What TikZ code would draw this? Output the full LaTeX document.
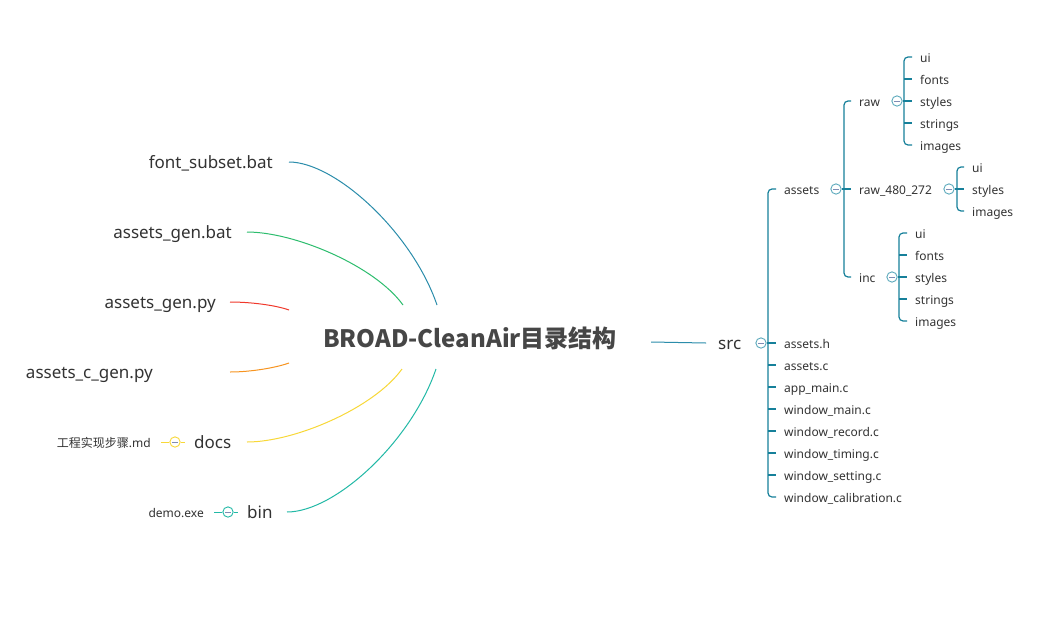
\documentclass[tikz,border=0pt]{standalone}
\usepackage{fontspec}
\setmainfont{Noto Sans}
\newfontfamily\cjk{Noto Sans CJK SC}
\definecolor{txt}{HTML}{333333}
\definecolor{ttl}{HTML}{464646}
\definecolor{cA}{HTML}{2B8DAB}
\definecolor{cB}{HTML}{2DBD6E}
\definecolor{cC}{HTML}{F0382B}
\definecolor{cD}{HTML}{F79420}
\definecolor{cE}{HTML}{F8D838}
\definecolor{cF}{HTML}{22B9A6}
\definecolor{treec}{HTML}{16809A}
\definecolor{togc}{HTML}{5BA9BC}
\definecolor{minusc}{HTML}{7F8CB4}
\begin{document}
\begin{tikzpicture}[x=1pt,y=-1pt,
  sm/.style={font=\fontsize{12}{14}\selectfont, text=txt, inner sep=0pt, text height=12.6pt, text depth=2.6pt},
  bg/.style={font=\fontsize{17}{20}\selectfont, text=txt, inner sep=0pt, text height=16.4pt, text depth=3.6pt},
  ttlstyle/.style={font=\cjk\bfseries\fontsize{24}{28}\selectfont, text=ttl, inner sep=0pt, text height=25pt, text depth=5.8pt},
  tog/.style={circle, draw=#1, fill=white, line width=0.9pt, minimum size=10.3pt, inner sep=0pt,
    path picture={\draw[minusc, line width=0.9pt] ([xshift=-2.8pt]path picture bounding box.center) -- ([xshift=2.8pt]path picture bounding box.center);}},
  tog/.default=togc,
  tree/.style={draw=treec, line width=1.2pt},
  curve/.style={draw=#1, line width=1pt}
]
\useasboundingbox[fill=white] (0,0) rectangle (1054,635);

% ---- root ----
\node[ttlstyle] (root) at (470,338) {BROAD-CleanAir目录结构};

% ---- left side ----
\node[bg, anchor=east] (fs) at (273,162) {font\_subset.bat};
\node[bg, anchor=east] (ag) at (232,232) {assets\_gen.bat};
\node[bg, anchor=east] (agp) at (216,302) {assets\_gen.py};
\node[bg, anchor=east] (acg) at (153,372) {assets\_c\_gen.py};
\node[bg, anchor=west] (docs) at (194,442) {docs};
\node[bg, anchor=west] (bin) at (247,512) {bin};
\node[sm, anchor=east] (md) at (151,442) {{\cjk 工程实现步骤}.md};
\node[sm, anchor=east] (demo) at (204,512) {demo.exe};

\coordinate (sA) at (289,162); \coordinate (eA) at (437,305);
\coordinate (sB) at (247,232); \coordinate (eB) at (403,305);
\coordinate (sC) at (230,302); \coordinate (eC) at (289,310);
\coordinate (sD) at (230,372); \coordinate (eD) at (289,363);
\coordinate (sE) at (247,442); \coordinate (eE) at (402,369);
\coordinate (sF) at (287,512); \coordinate (eF) at (436,369);

\draw[curve=cA] (sA) .. controls (335,162) and (412,232) .. (eA);
\draw[curve=cB] (sB) .. controls (295,232) and (375,266) .. (eB);
\draw[curve=cC] (sC) .. controls (250,302) and (275,305) .. (eC);
\draw[curve=cD] (sD) .. controls (250,372) and (275,368) .. (eD);
\draw[curve=cE] (sE) .. controls (295,442) and (374,408) .. (eE);
\draw[curve=cF] (sF) .. controls (335,512) and (411,442) .. (eF);

\node[tog=cE] (docst) at (175,442) {};
\node[tog=cF] (bint) at (228,512) {};
\draw[curve=cE] ([xshift=10pt]md.east) -- (docst.west);
\draw[curve=cE] (docst.east) -- ++(4,0);
\draw[curve=cF] ([xshift=10pt]demo.east) -- (bint.west);
\draw[curve=cF] (bint.east) -- ++(4,0);

% ---- right side ----
\coordinate (srcin) at (651,342);
\node[bg, anchor=west] (src) at (718,343) {src};
\draw[curve=cA] (srcin) -- ([xshift=-12pt]src.west);

\coordinate (srcbar) at (768,343);
\node[sm, anchor=west] (assets) at (784,189) {assets};
\node[sm, anchor=west] (s2) at (784,343) {assets.h};
\node[sm, anchor=west] (s3) at (784,365) {assets.c};
\node[sm, anchor=west] (s4) at (784,387) {app\_main.c};
\node[sm, anchor=west] (s5) at (784,409) {window\_main.c};
\node[sm, anchor=west] (s6) at (784,431) {window\_record.c};
\node[sm, anchor=west] (s7) at (784,453) {window\_timing.c};
\node[sm, anchor=west] (s8) at (784,475) {window\_setting.c};
\node[sm, anchor=west] (s9) at (784,497) {window\_calibration.c};

\coordinate (assetsbar) at (844,189);
\node[sm, anchor=west] (raw) at (859,101) {raw};
\node[sm, anchor=west] (rb) at (859,189) {raw\_480\_272};
\node[sm, anchor=west] (inc) at (859,277) {inc};

\coordinate (rawbar) at (904,101);
\node[sm, anchor=west] (ra1) at (920,57) {ui};
\node[sm, anchor=west] (ra2) at (920,79) {fonts};
\node[sm, anchor=west] (ra3) at (920,101) {styles};
\node[sm, anchor=west] (ra4) at (920,123) {strings};
\node[sm, anchor=west] (ra5) at (920,145) {images};

\coordinate (rbbar) at (957,189);
\node[sm, anchor=west] (rb1) at (972,167) {ui};
\node[sm, anchor=west] (rb2) at (972,189) {styles};
\node[sm, anchor=west] (rb3) at (972,211) {images};

\coordinate (incbar) at (899,277);
\node[sm, anchor=west] (in1) at (915,233) {ui};
\node[sm, anchor=west] (in2) at (915,255) {fonts};
\node[sm, anchor=west] (in3) at (915,277) {styles};
\node[sm, anchor=west] (in4) at (915,299) {strings};
\node[sm, anchor=west] (in5) at (915,321) {images};

% brackets
\newcommand\brk[3]{% bar, first, last
  \draw[tree, rounded corners=4pt] ([xshift=-8pt]#2.west) -- (#2.west -| #1) -- (#3.west -| #1) -- ([xshift=-8pt]#3.west);}
\newcommand\tck[2]{\draw[tree] (#2.west -| #1) -- ([xshift=-8pt]#2.west);}

\brk{srcbar}{assets}{s9}
\foreach \c in {s2,s3,s4,s5,s6,s7,s8} {\tck{srcbar}{\c}}
\brk{assetsbar}{raw}{inc}
\tck{assetsbar}{rb}
\brk{rawbar}{ra1}{ra5}
\foreach \c in {ra2,ra3,ra4} {\tck{rawbar}{\c}}
\brk{rbbar}{rb1}{rb3}
\tck{rbbar}{rb2}
\brk{incbar}{in1}{in5}
\foreach \c in {in2,in3,in4} {\tck{incbar}{\c}}

\node[tog] (srct) at (761,343) {};
\node[tog] (assetst) at (836,189) {};
\node[tog] (rawt) at (897,101) {};
\node[tog] (rbt) at (949,189) {};
\node[tog] (inct) at (892,277) {};
\draw[tree] (srct.east) -- (srcbar);
\draw[tree] (assetst.east) -- (assetsbar);
\draw[tree] (rawt.east) -- (rawbar);
\draw[tree] (rbt.east) -- (rbbar);
\draw[tree] (inct.east) -- (incbar);
\end{tikzpicture}
\end{document}
